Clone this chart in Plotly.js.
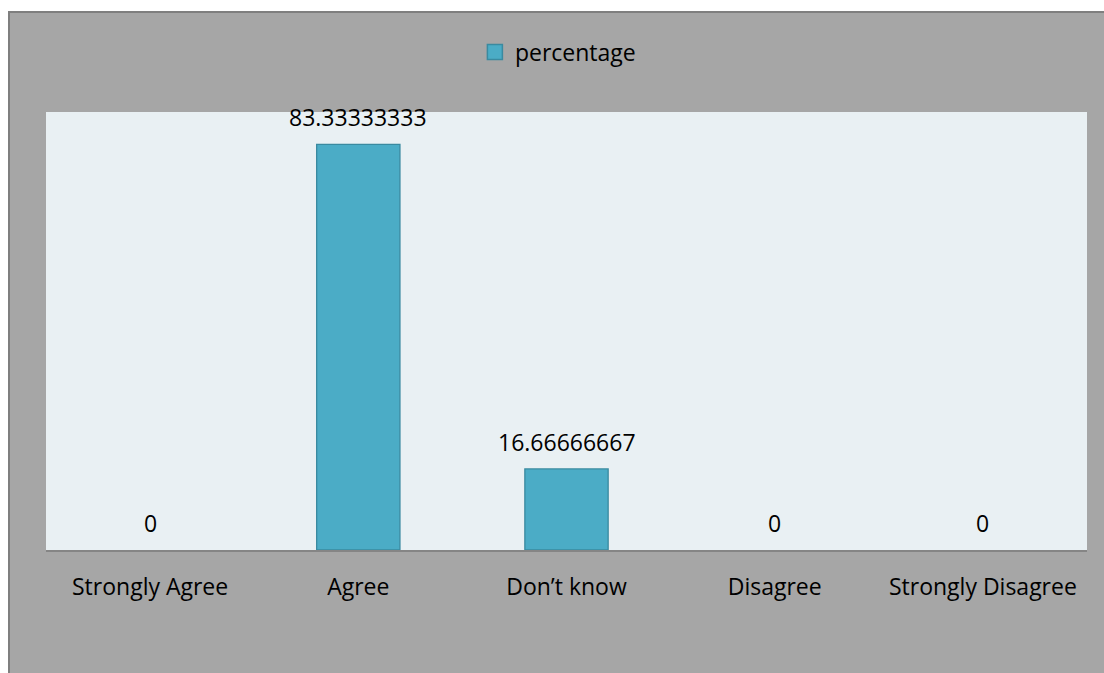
<!DOCTYPE html>
<html><head><meta charset="utf-8">
<script src="https://cdn.plot.ly/plotly-3.0.1.min.js"></script>
<style>
html,body{margin:0;padding:0;background:#fff;}
#chart{position:absolute;left:8px;top:11px;width:1094px;height:660px;border-left:2px solid #7f7f7f;border-top:2px solid #7f7f7f;}
</style></head>
<body><div id="chart"></div>
<script>
const categories = ["Strongly Agree", "Agree", "Don\u2019t know", "Disagree", "Strongly Disagree"];
const percentage = [0, 83.33333333, 16.66666667, 0, 0];
const valueLabels = ["0", "83.33333333", "16.66666667", "0", "0"];
const seriesName = "percentage";

const FONT = "Open Sans, Noto Sans, sans-serif";
const FILL = "#4bacc6", EDGE = "#3a8aa0";

const barTrace = {
  type: "bar",
  x: categories,
  y: percentage,
  name: seriesName,
  marker: {color: FILL,
           line: {color: EDGE, width: percentage.map(v => v > 0 ? 1.3 : 0)}},
  width: 0.4,
  showlegend: false,
  hoverinfo: "none"
};

// legend entry only (no data drawn)
const legendTrace = {
  type: "scatter", mode: "markers",
  x: [null], y: [null],
  name: seriesName,
  marker: {symbol: "square", size: 15, color: FILL, line: {color: EDGE, width: 1.5}},
  showlegend: true, hoverinfo: "none"
};

const annotations = categories.map((c, i) => ({
  x: c, y: percentage[i], xref: "x", yref: "y",
  text: valueLabels[i], showarrow: false,
  yanchor: "bottom", yshift: 9,
  font: {family: FONT, size: 23, color: "#000"}
}));

const layout = {
  width: 1094, height: 660,
  paper_bgcolor: "#a6a6a6",
  plot_bgcolor: "#e9f0f3",
  margin: {l: 36, r: 17, t: 99, b: 123},
  font: {family: FONT, size: 23, color: "#000"},
  showlegend: true,
  legend: {orientation: "h", x: 0.412, xanchor: "left", y: 1.137, yanchor: "middle",
           bgcolor: "rgba(0,0,0,0)", font: {size: 23}, itemwidth: 30},
  xaxis: {type: "category", showgrid: false, showline: true, linecolor: "#858585", linewidth: 2,
          ticks: "", ticklabelstandoff: 15, tickfont: {size: 23}, fixedrange: true},
  yaxis: {range: [0, 90], showgrid: false, showticklabels: false, zeroline: false,
          showline: false, ticks: "", fixedrange: true},
  annotations: annotations
};

Plotly.newPlot("chart", [barTrace, legendTrace], layout, {displayModeBar: false, staticPlot: true});
</script></body></html>
